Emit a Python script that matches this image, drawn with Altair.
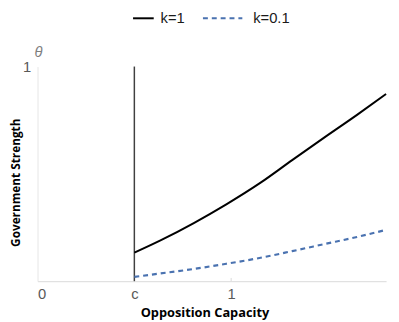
import altair as alt
import pandas as pd

# data
x_vals = [0.5, 0.635, 0.807, 0.975, 1.152, 1.315, 1.482, 1.65, 1.8]
k1_vals = [0.133, 0.190, 0.271, 0.358, 0.459, 0.564, 0.670, 0.775, 0.872]
k01_vals = [0.020, 0.036, 0.057, 0.081, 0.109, 0.140, 0.173, 0.206, 0.239]
series = ["k=1", "k=0.1"]
colors = ["#000000", "#4a72b0"]
c_val = 0.5
x_ticks = [0, 0.5, 1]
x_tick_labels = ["0", "c", "1"]

rows = []
for xv, a, b in zip(x_vals, k1_vals, k01_vals):
    rows.append({"x": xv, "y": a, "k": series[0]})
    rows.append({"x": xv, "y": b, "k": series[1]})
df = pd.DataFrame(rows)

W, H = 354, 218
xs = alt.Scale(domain=[0, 1.8], nice=False)
ys = alt.Scale(domain=[0, 1], nice=False)

label_expr = "datum.value == 0.5 ? 'c' : (datum.value == 1 ? '1' : '0')"

base = alt.Chart(df).encode(
    x=alt.X("x:Q", scale=xs, axis=alt.Axis(
        values=x_ticks, labelExpr=label_expr, title=None, grid=False, ticks=False,
        domainColor="#d9d9d9", labelColor="#595959", labelFontSize=15,
        labelFont="Liberation Sans", labelPadding=6)),
    y=alt.Y("y:Q", scale=ys, axis=alt.Axis(
        values=[1], labelExpr="'1'", title=None, grid=False, ticks=False, domainColor="#e6e6e6",
        labelColor="#595959", labelFontSize=15, labelFont="Liberation Sans",
        labelPadding=7)),
)

solid = base.transform_filter(alt.datum.k == series[0]).mark_line(
    color=colors[0], strokeWidth=2, interpolate="monotone")
dashed = base.transform_filter(alt.datum.k == series[1]).mark_line(
    color=colors[1], strokeWidth=2.2, strokeDash=[5, 4], interpolate="monotone")

vline = alt.Chart(pd.DataFrame({"x": [c_val], "y": [0], "y2": [1]})).mark_rule(
    color="#404040", strokeWidth=1.5).encode(x="x:Q", y="y:Q", y2="y2:Q")

tick1 = alt.Chart(pd.DataFrame({"x": [1], "y": [0], "y2": [0.015]})).mark_rule(
    color="#d9d9d9", strokeWidth=1).encode(x="x:Q", y="y:Q", y2="y2:Q")

# manual legend
leg_solid = alt.Chart(pd.DataFrame({"a": [0]})).mark_rule(color=colors[0], strokeWidth=2).encode(
    x=alt.value(97), x2=alt.value(118), y=alt.value(-49))
leg_dash = alt.Chart(pd.DataFrame({"a": [0]})).mark_rule(
    color=colors[1], strokeWidth=2, strokeDash=[5, 4]).encode(
    x=alt.value(168), x2=alt.value(208), y=alt.value(-49))
leg_t1 = alt.Chart(pd.DataFrame({"t": [series[0]]})).mark_text(
    fontSize=15, font="Liberation Sans", color="#1a1a1a", align="left", baseline="middle").encode(
    text="t:N", x=alt.value(125), y=alt.value(-49))
leg_t2 = alt.Chart(pd.DataFrame({"t": [series[1]]})).mark_text(
    fontSize=15, font="Liberation Sans", color="#1a1a1a", align="left", baseline="middle").encode(
    text="t:N", x=alt.value(219), y=alt.value(-49))

theta = alt.Chart(pd.DataFrame({"t": ["θ"]})).mark_text(
    fontSize=15, fontStyle="italic", color="#7f7f7f", font="Liberation Sans").encode(
    text="t:N", x=alt.value(1), y=alt.value(-15))

ytitle = alt.Chart(pd.DataFrame({"t": ["Government Strength"]})).mark_text(
    fontSize=12, fontWeight="bold", color="#000000", font="Open Sans", angle=270,
    baseline="middle").encode(text="t:N", x=alt.value(-22), y=alt.value(118))

xtitle = alt.Chart(pd.DataFrame({"t": ["Opposition Capacity"]})).mark_text(
    fontSize=13, fontWeight="bold", color="#000000", font="Open Sans",
    baseline="middle").encode(text="t:N", x=alt.value(170), y=alt.value(250))

chart = alt.layer(vline, tick1, solid, dashed, leg_solid, leg_dash, leg_t1, leg_t2,
                  theta, ytitle, xtitle).properties(
    width=W, height=H,
    autosize=alt.AutoSizeParams(type="none"),
    padding={"left": 30, "top": 57, "right": 5, "bottom": 39},
).configure_view(stroke=None)

chart.save("out.html", embed_options={"renderer": "svg", "actions": False})
